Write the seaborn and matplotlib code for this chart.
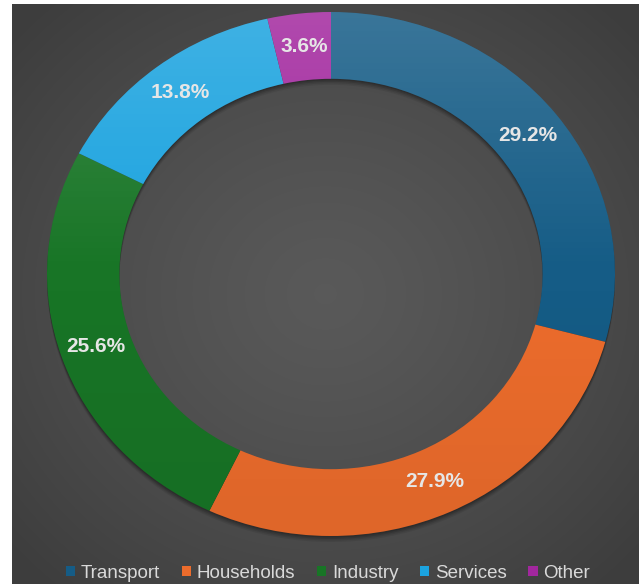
import numpy as np
import matplotlib
matplotlib.use("Agg")
import matplotlib.pyplot as plt
from matplotlib.patches import Patch
import seaborn as sns

# Share of final energy consumption by sector
sectors = ["Transport", "Households", "Industry", "Services", "Other"]
shares = [29.2, 27.9, 25.6, 13.8, 3.6]
labels = ["29.2%", "27.9%", "25.6%", "13.8%", "3.6%"]
colors = ["#155C86", "#EC6C2C", "#187526", "#1BA3DF", "#A2279E"]

sns.set_theme(style="dark")
plt.rcParams["font.family"] = ["Liberation Sans", "DejaVu Sans"]
palette = sns.color_palette(colors)

W, H = 639, 584
fig = plt.figure(figsize=(W / 100, H / 100), dpi=100, facecolor="white")

# dark panel with a soft radial glow in the middle
bg = fig.add_axes([12 / W, 0, (W - 12) / W, (H - 4) / H])
bg.set_axis_off()
gx, gy = np.meshgrid(np.linspace(-1, 1, 400), np.linspace(-1, 1, 400))
rr = np.clip(np.sqrt(gx ** 2 + gy ** 2) / 1.35, 0, 1)
shade = 0.35 - 0.11 * rr ** 1.3
bg.imshow(np.dstack([shade, shade, shade]), extent=[0, 1, 0, 1],
          aspect="auto", interpolation="bilinear")
bg.set_xlim(0, 1)
bg.set_ylim(0, 1)

# ring axes, elliptical ring centered at pixel (331, 274)
ax = fig.add_axes([0, 0, 1, 1])
ax.set_facecolor("none")
cx, cy, rx, ry = 331, 274, 284, 262
xmin, xmax = -cx / rx, (W - cx) / rx
ymin, ymax = -(H - cy) / ry, cy / ry

width = 0.255

# soft drop shadow beneath the ring
for k, a in zip([6, 4.5, 3, 1.5], [0.07, 0.09, 0.12, 0.15]):
    ax.pie([1], radius=1.0, colors=["black"], startangle=90,
           center=(0, -k / ry),
           wedgeprops=dict(width=width, linewidth=0, alpha=a))

wedges, _ = ax.pie(shares, colors=palette, startangle=90, counterclock=False,
                   radius=1.0, wedgeprops=dict(width=width, linewidth=0))

# gentle light-to-dark vertical sheen over each segment
grad = np.linspace(1, 0, 256)[:, None]
sheen = np.zeros((256, 1, 4))
top = np.clip(grad - 0.5, 0, None) / 0.5
bot = np.clip(0.5 - grad, 0, None) / 0.5
sheen[..., 0:3] = (top > 0)[..., None] * 1.0
sheen[..., 3] = 0.16 * top + 0.06 * bot
for w in wedges:
    im = ax.imshow(sheen, extent=[-1, 1, -1, 1], aspect="auto",
                   interpolation="bilinear", zorder=w.get_zorder() + 0.1)
    im.set_clip_path(w)

# percentage labels in the middle of each segment
rmid = 1 - width / 2
ang = 90.0
for s, lab in zip(shares, labels):
    theta = np.deg2rad(ang - s * 3.6 / 2)
    ax.text(rmid * np.cos(theta), rmid * np.sin(theta), lab,
            ha="center", va="center", fontsize=15, fontweight="bold",
            color="#E6E6E6", zorder=10)
    ang -= s * 3.6

ax.set_aspect("auto")
ax.set_xlim(xmin, xmax)
ax.set_ylim(ymin, ymax)
ax.set_axis_off()

handles = [Patch(facecolor=c, edgecolor="none") for c in palette]
fig.legend(handles, sectors, loc="center", bbox_to_anchor=(328 / W, 11 / H),
           ncol=5, frameon=False, fontsize=13.5, labelcolor="#D9D9D9",
           handlelength=0.5, handleheight=0.5, handletextpad=0.3,
           columnspacing=1.15)

fig.savefig("out.png", dpi=100, facecolor="white")
